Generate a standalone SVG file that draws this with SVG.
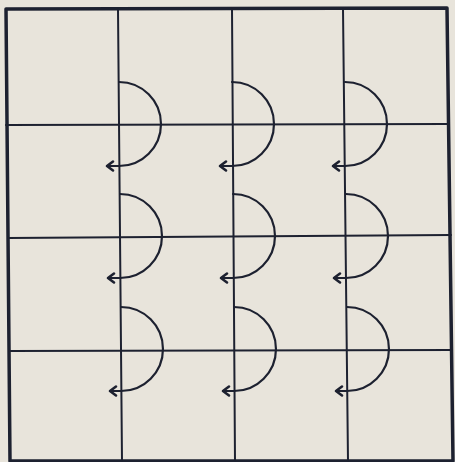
<svg xmlns="http://www.w3.org/2000/svg" width="455" height="462" viewBox="0 0 455 462">
  <style>
    .grid { stroke: #1d2130; stroke-width: 2; fill: none; stroke-linecap: round; }
    .border { stroke: #1d2130; stroke-width: 3.5; fill: none; stroke-linejoin: round; }
    .turn { stroke: #1d2130; stroke-width: 2.2; fill: none; stroke-linecap: round; marker-end: url(#head); }
  </style>
  <defs>
    <marker id="head" markerUnits="userSpaceOnUse" markerWidth="14" markerHeight="14" refX="8" refY="7" orient="auto" viewBox="0 0 14 14">
      <path d="M2,2.5 L8,7 L2,11.5" fill="none" stroke="#1d2130" stroke-width="2.6" stroke-linecap="round" stroke-linejoin="round"/>
    </marker>
  </defs>
  <rect x="0" y="0" width="455" height="462" fill="#e8e4db"/>
  <g id="grid">
    <path class="border" d="M6,9 L447,8 L453,461 L10,461 Z"/>
    <line class="grid" x1="118" y1="9" x2="122" y2="461"/>
    <line class="grid" x1="232" y1="9" x2="235" y2="461"/>
    <line class="grid" x1="343" y1="9" x2="348" y2="461"/>
    <line class="grid" x1="6" y1="125" x2="448" y2="124"/>
    <line class="grid" x1="8" y1="238" x2="451" y2="235"/>
    <line class="grid" x1="9" y1="351" x2="452" y2="350"/>
  </g>
  <g id="connectors">
    <path class="turn" d="M119,82 A42,42 0 0 1 119,166 L107,166"/>
    <path class="turn" d="M232,82 A42,42 0 0 1 232,166 L220,166"/>
    <path class="turn" d="M345,82 A42,42 0 0 1 345,166 L333,166"/>
    <path class="turn" d="M120,194 A42,42 0 0 1 120,278 L108,278"/>
    <path class="turn" d="M233,194 A42,42 0 0 1 233,278 L221,278"/>
    <path class="turn" d="M346,194 A42,42 0 0 1 346,278 L334,278"/>
    <path class="turn" d="M121,307 A42,42 0 0 1 121,391 L110,391"/>
    <path class="turn" d="M234,307 A42,42 0 0 1 234,391 L223,391"/>
    <path class="turn" d="M347,307 A42,42 0 0 1 347,391 L336,391"/>
  </g>
</svg>
